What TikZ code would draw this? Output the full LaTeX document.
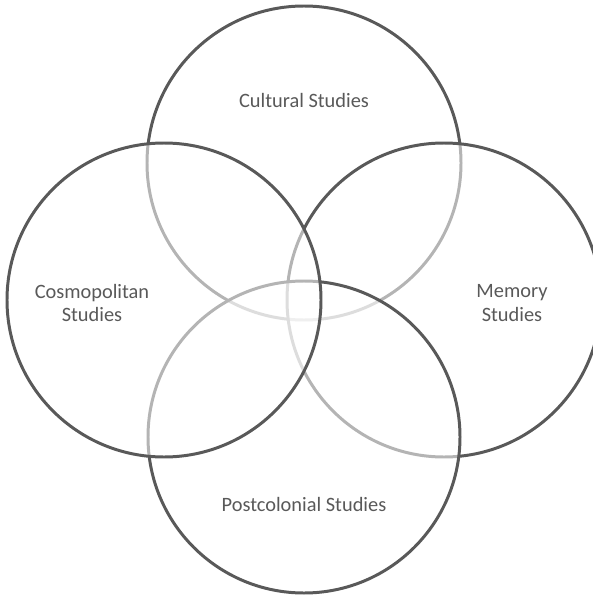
\documentclass[tikz,border=0pt]{standalone}
\usepackage{fontspec}
\setmainfont{Carlito}
\definecolor{ringgray}{HTML}{595959}
\begin{document}
\begin{tikzpicture}[x=0.02cm,y=-0.02cm,
  ring/.style={draw=ringgray,line width=1.7pt,fill=white,fill opacity=0.55},
  lab/.style={text=ringgray,font=\fontsize{11.6}{13.2}\selectfont,align=center}]
  % 画布
  \useasboundingbox (0,0) rectangle (592,598);

  % 圆心
  \coordinate (cultC) at (304,163);
  \coordinate (memC) at (444,300);
  \coordinate (postC) at (304,437);
  \coordinate (cosmC) at (164,300);

  % 四个圆 (上, 右, 下, 左 依次叠放)
  \draw[ring] (cultC) circle[radius=157];
  \draw[ring] (memC) circle[radius=157];
  \draw[ring] (postC) circle[radius=156];
  \draw[ring] (cosmC) circle[radius=157];

  % 标签
  \node[lab] (cult) at (304,100) {Cultural Studies};
  \node[lab] (mem) at (512,303) {Memory\\Studies};
  \node[lab] (post) at (304,504) {Postcolonial Studies};
  \node[lab] (cosm) at (92,303) {Cosmopolitan\\Studies};
\end{tikzpicture}
\end{document}
